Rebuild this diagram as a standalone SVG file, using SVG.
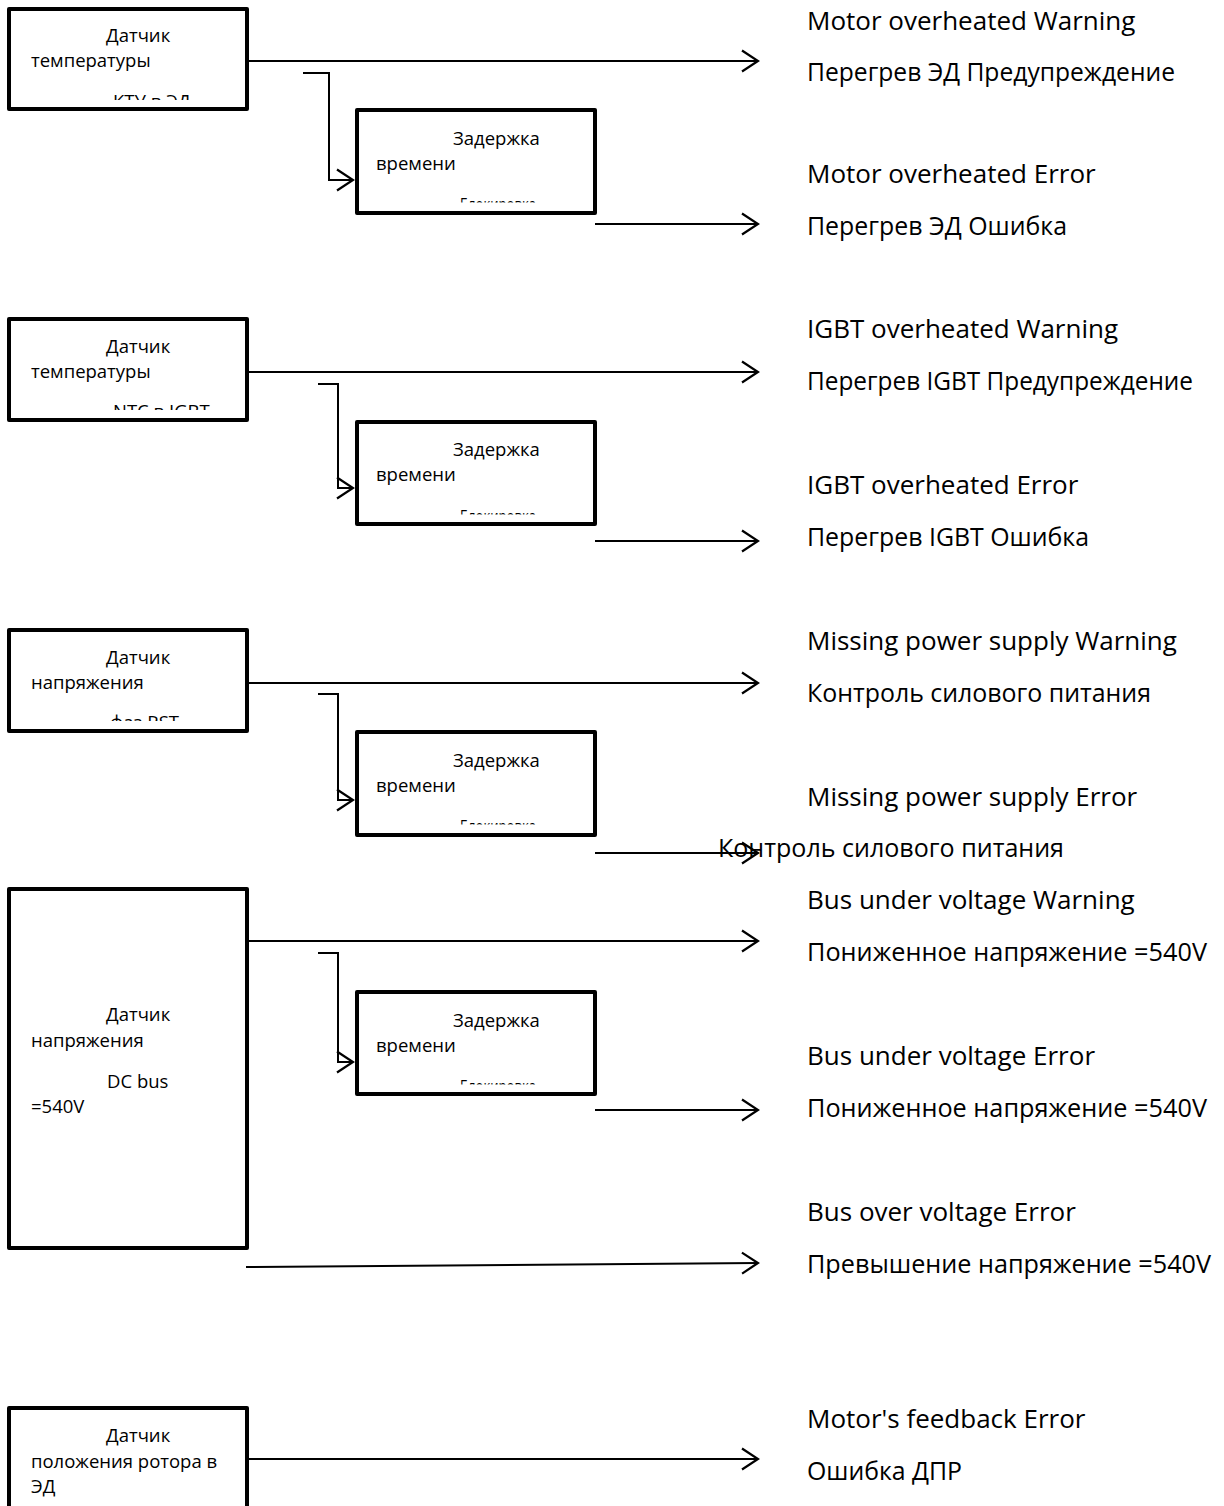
<svg xmlns="http://www.w3.org/2000/svg" width="1224" height="1506" viewBox="0 0 1224 1506">
<style>
.box{fill:#fff;stroke:#000;stroke-width:4;stroke-linejoin:round}
.c{fill:none;stroke:#000;stroke-width:2}
.t{font-family:"Open Sans","Noto Sans",sans-serif;font-size:18.5px;fill:#000}
.lbl{font-family:"Open Sans","Noto Sans",sans-serif;font-size:26px;fill:#000}
</style>
<defs>
<marker id="arr" viewBox="0 0 20 24" refX="18" refY="12" markerWidth="20" markerHeight="24" markerUnits="userSpaceOnUse" orient="auto">
<path d="M2,1.5 L18,12 L2,22.5" fill="none" stroke="#000" stroke-width="2.2"/>
</marker>
<clipPath id="cs1"><rect x="11" y="11" width="233" height="89"/></clipPath>
<clipPath id="cs2"><rect x="11" y="321" width="233" height="89"/></clipPath>
<clipPath id="cs3"><rect x="11" y="632" width="233" height="89"/></clipPath>
<clipPath id="cd1"><rect x="359" y="112" width="234" height="90.5"/></clipPath>
<clipPath id="cd2"><rect x="359" y="424" width="234" height="90.5"/></clipPath>
<clipPath id="cd3"><rect x="359" y="734" width="234" height="90.5"/></clipPath>
<clipPath id="cd4"><rect x="359" y="994" width="234" height="90.5"/></clipPath>
</defs>

<g id="sensor1">
<rect class="box" x="9" y="9" width="238" height="100"/>
<text class="t" x="106" y="42">Датчик</text>
<text class="t" x="31" y="67">температуры</text>
<text class="t" x="113" y="108" clip-path="url(#cs1)">КТУ в ЭД</text>
</g>
<g id="delay1">
<rect class="box" x="357" y="110" width="238" height="103"/>
<text class="t" x="453" y="145">Задержка</text>
<text class="t" x="376" y="170">времени</text>
<text class="t" x="460" y="211" textLength="76" lengthAdjust="spacingAndGlyphs" clip-path="url(#cd1)">Блокировка</text>
</g>

<g id="sensor2">
<rect class="box" x="9" y="319" width="238" height="101"/>
<text class="t" x="106" y="353">Датчик</text>
<text class="t" x="31" y="378">температуры</text>
<text class="t" x="113" y="418" clip-path="url(#cs2)">NTC в IGBT</text>
</g>
<g id="delay2">
<rect class="box" x="357" y="422" width="238" height="102"/>
<text class="t" x="453" y="456">Задержка</text>
<text class="t" x="376" y="481">времени</text>
<text class="t" x="460" y="523" textLength="76" lengthAdjust="spacingAndGlyphs" clip-path="url(#cd2)">Блокировка</text>
</g>

<g id="sensor3">
<rect class="box" x="9" y="630" width="238" height="101"/>
<text class="t" x="106" y="664">Датчик</text>
<text class="t" x="31" y="689">напряжения</text>
<text class="t" x="110" y="729" clip-path="url(#cs3)">фаз RST</text>
</g>
<g id="delay3">
<rect class="box" x="357" y="732" width="238" height="103"/>
<text class="t" x="453" y="767">Задержка</text>
<text class="t" x="376" y="792">времени</text>
<text class="t" x="460" y="833" textLength="76" lengthAdjust="spacingAndGlyphs" clip-path="url(#cd3)">Блокировка</text>
</g>

<g id="sensor4">
<rect class="box" x="9" y="889" width="238" height="359"/>
<text class="t" x="106" y="1021">Датчик</text>
<text class="t" x="31" y="1047">напряжения</text>
<text class="t" x="107" y="1088">DC bus</text>
<text class="t" x="31" y="1113">=540V</text>
</g>
<g id="delay4">
<rect class="box" x="357" y="992" width="238" height="102"/>
<text class="t" x="453" y="1027">Задержка</text>
<text class="t" x="376" y="1052">времени</text>
<text class="t" x="460" y="1093" textLength="76" lengthAdjust="spacingAndGlyphs" clip-path="url(#cd4)">Блокировка</text>
</g>

<g id="sensor5">
<rect class="box" x="9" y="1408" width="238" height="120"/>
<text class="t" x="106" y="1442">Датчик</text>
<text class="t" x="31" y="1468">положения ротора в</text>
<text class="t" x="31" y="1493">ЭД</text>
</g>

<g id="connectors">
<path class="c" d="M248,61 H758" marker-end="url(#arr)"/>
<path class="c" d="M303,73 H329 V180 H353" marker-end="url(#arr)"/>
<path class="c" d="M595,224 H758" marker-end="url(#arr)"/>

<path class="c" d="M248,372 H758" marker-end="url(#arr)"/>
<path class="c" d="M318,384 H338 V488 H353" marker-end="url(#arr)"/>
<path class="c" d="M595,541 H758" marker-end="url(#arr)"/>

<path class="c" d="M248,683 H758" marker-end="url(#arr)"/>
<path class="c" d="M318,694 H338 V800 H353" marker-end="url(#arr)"/>
<path class="c" d="M595,853 H758" marker-end="url(#arr)"/>

<path class="c" d="M248,941 H758" marker-end="url(#arr)"/>
<path class="c" d="M318,953 H338 V1062 H353" marker-end="url(#arr)"/>
<path class="c" d="M595,1110 H758" marker-end="url(#arr)"/>
<path class="c" d="M246,1267 L758,1263" marker-end="url(#arr)"/>

<path class="c" d="M248,1459 H758" marker-end="url(#arr)"/>
</g>

<g id="labels">
<text class="lbl" x="807" y="30">Motor overheated Warning</text>
<text class="lbl" x="807" y="81" textLength="368" lengthAdjust="spacingAndGlyphs">Перегрев ЭД Предупреждение</text>
<text class="lbl" x="807" y="183">Motor overheated Error</text>
<text class="lbl" x="807" y="235" textLength="260" lengthAdjust="spacingAndGlyphs">Перегрев ЭД Ошибка</text>

<text class="lbl" x="807" y="338">IGBT overheated Warning</text>
<text class="lbl" x="807" y="390" textLength="386" lengthAdjust="spacingAndGlyphs">Перегрев IGBT Предупреждение</text>
<text class="lbl" x="807" y="494">IGBT overheated Error</text>
<text class="lbl" x="807" y="546" textLength="282" lengthAdjust="spacingAndGlyphs">Перегрев IGBT Ошибка</text>

<text class="lbl" x="807" y="650">Missing power supply Warning</text>
<text class="lbl" x="807" y="702" textLength="344" lengthAdjust="spacingAndGlyphs">Контроль силового питания</text>
<text class="lbl" x="807" y="806">Missing power supply Error</text>
<text class="lbl" x="718" y="857" textLength="346" lengthAdjust="spacingAndGlyphs">Контроль силового питания</text>

<text class="lbl" x="807" y="909">Bus under voltage Warning</text>
<text class="lbl" x="807" y="961" textLength="400" lengthAdjust="spacingAndGlyphs">Пониженное напряжение =540V</text>
<text class="lbl" x="807" y="1065">Bus under voltage Error</text>
<text class="lbl" x="807" y="1117" textLength="400" lengthAdjust="spacingAndGlyphs">Пониженное напряжение =540V</text>
<text class="lbl" x="807" y="1221">Bus over voltage Error</text>
<text class="lbl" x="807" y="1273" textLength="404" lengthAdjust="spacingAndGlyphs">Превышение напряжение =540V</text>

<text class="lbl" x="807" y="1428">Motor's feedback Error</text>
<text class="lbl" x="807" y="1480" textLength="155" lengthAdjust="spacingAndGlyphs">Ошибка ДПР</text>
</g>
</svg>
